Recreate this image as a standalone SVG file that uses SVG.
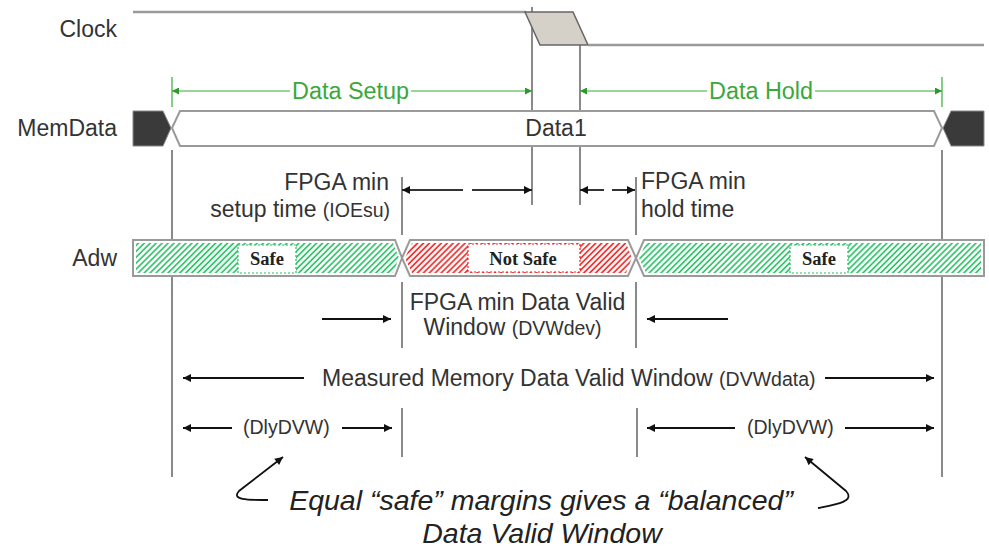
<svg xmlns="http://www.w3.org/2000/svg" width="989" height="548" viewBox="0 0 989 548">
<style>
  .lbl{font-family:"Liberation Sans",Arial,sans-serif;font-size:23px;fill:#333}
  .sm{font-size:19.5px}
  .grn{fill:#3aa83a}
  .it{font-family:"Liberation Sans",Arial,sans-serif;font-size:28.5px;font-style:italic;fill:#222}
  .tag{font-family:"Liberation Serif","Times New Roman",serif;font-weight:bold;font-size:18.5px;fill:#222}
  .vl{stroke:#8a8a8a;stroke-width:2;fill:none}
  .ar{stroke:#111;stroke-width:2;fill:none;marker-end:url(#ah)}
  .ar2{stroke:#333;stroke-width:2;fill:none;marker-end:url(#ah);marker-start:url(#ahs)}
  .gl{stroke:#3aa83a;stroke-width:1.2;fill:none}
  .bus{fill:#fff;stroke:#9a9a9a;stroke-width:2}
  .dark{fill:#3a3a3a;stroke:#888;stroke-width:1}
</style>
<defs>
  <marker id="ah" viewBox="0 0 10 10" refX="10" refY="5" markerUnits="userSpaceOnUse" markerWidth="10" markerHeight="8" orient="auto"><path d="M0,0 L10,5 L0,10 z" fill="#111"/></marker>
  <marker id="ahs" viewBox="0 0 10 10" refX="10" refY="5" markerUnits="userSpaceOnUse" markerWidth="10" markerHeight="8" orient="auto-start-reverse"><path d="M0,0 L10,5 L0,10 z" fill="#111"/></marker>
  <marker id="gh" viewBox="0 0 10 10" refX="10" refY="5" markerUnits="userSpaceOnUse" markerWidth="8" markerHeight="7" orient="auto-start-reverse"><path d="M0,0 L10,5 L0,10 z" fill="#2a9a2a"/></marker>
  <pattern id="hg" patternUnits="userSpaceOnUse" width="4.2" height="10" patternTransform="rotate(45)"><rect width="4.2" height="10" fill="#fff"/><line x1="1" y1="0" x2="1" y2="10" stroke="#22c060" stroke-width="1.6"/></pattern>
  <pattern id="hr" patternUnits="userSpaceOnUse" width="4.2" height="10" patternTransform="rotate(45)"><rect width="4.2" height="10" fill="#fff"/><line x1="1" y1="0" x2="1" y2="10" stroke="#f02222" stroke-width="1.6"/></pattern>
</defs>
<rect width="989" height="548" fill="#fff"/>

<g id="connectors">
  <!-- vertical reference lines -->
  <line class="vl" x1="532" y1="7" x2="532" y2="205"/>
  <line class="vl" x1="580" y1="45" x2="580" y2="205"/>
  <line class="vl" x1="172" y1="150" x2="172" y2="477"/>
  <line class="vl" x1="942" y1="150" x2="942" y2="477"/>
  <line class="vl" x1="402" y1="177" x2="402" y2="235"/>
  <line class="vl" x1="402" y1="282" x2="402" y2="348"/>
  <line class="vl" x1="402" y1="408" x2="402" y2="457"/>
  <line class="vl" x1="636" y1="177" x2="636" y2="235"/>
  <line class="vl" x1="636" y1="282" x2="636" y2="348"/>
  <line class="vl" x1="637" y1="408" x2="637" y2="457"/>
  <!-- green setup/hold dimensions -->
  <line class="gl" x1="172" y1="77" x2="172" y2="107"/>
  <line class="gl" x1="942" y1="77" x2="942" y2="107"/>
  <line class="gl" x1="290" y1="91" x2="172" y2="91" marker-end="url(#gh)"/>
  <line class="gl" x1="411" y1="91" x2="532" y2="91" marker-end="url(#gh)"/>
  <line class="gl" x1="707" y1="91" x2="580" y2="91" marker-end="url(#gh)"/>
  <line class="gl" x1="815" y1="91" x2="942" y2="91" marker-end="url(#gh)"/>
  <!-- FPGA setup / hold -->
  <line class="ar2" x1="402" y1="190" x2="532" y2="190" stroke-dasharray="61 9"/>
  <line class="ar2" x1="580" y1="190" x2="635" y2="190" stroke-dasharray="24 8"/>
  <!-- DVWdev -->
  <line class="ar" x1="322" y1="319" x2="391" y2="319"/>
  <line class="ar" x1="728" y1="319" x2="647" y2="319"/>
  <!-- DVWdata -->
  <line class="ar" x1="304" y1="378" x2="183" y2="378"/>
  <line class="ar" x1="825" y1="378" x2="934" y2="378"/>
  <!-- DlyDVW -->
  <line class="ar" x1="232" y1="428" x2="183" y2="428"/>
  <line class="ar" x1="342" y1="428" x2="392" y2="428"/>
  <line class="ar" x1="735" y1="428" x2="647" y2="428"/>
  <line class="ar" x1="845" y1="428" x2="934" y2="428"/>
  <!-- curved pointers -->
  <path class="ar" d="M268,500 C252,500 230,501 239,491 L283,457" style="stroke-width:1.8"/>
  <path class="ar" d="M818,508 C834,505 856,502 846,491 L805,457" style="stroke-width:1.8"/>
</g>

<g id="signal-labels">
  <text class="lbl" x="117" y="37" text-anchor="end">Clock</text>
  <text class="lbl" x="117" y="136" text-anchor="end">MemData</text>
  <text class="lbl" x="117" y="266" text-anchor="end">Adw</text>
</g>

<g id="clock">
  <line x1="133" y1="12" x2="526" y2="12" stroke="#9a9a9a" stroke-width="2.5"/>
  <polygon points="525,12 573,12 588,45 540,45" fill="#d5d0c8" stroke="#666" stroke-width="1.5"/>
  <line x1="588" y1="45" x2="984" y2="45" stroke="#9a9a9a" stroke-width="2.5"/>
</g>

<g id="memdata">
  <polygon class="dark" points="133,111 163,111 171,128 163,146 133,146"/>
  <polygon class="bus" points="172,128 180,111 934,111 942,128 934,146 180,146"/>
  <polygon class="dark" points="943,128 951,111 984,111 984,146 951,146"/>
  <text class="lbl" x="556" y="136" text-anchor="middle">Data1</text>
</g>

<g id="adw">
  <polygon class="bus" points="133,240 395,240 402,258 395,276 133,276"/>
  <polygon points="136,243 393,243 399,258 393,273 136,273" fill="url(#hg)"/>
  <polygon class="bus" points="402,258 410,240 628,240 636,258 628,276 410,276"/>
  <polygon points="405,258 412,243 626,243 632,258 626,273 412,273" fill="url(#hr)"/>
  <polygon class="bus" points="636,258 644,240 984,240 984,276 644,276"/>
  <polygon points="639,258 646,243 981,243 981,273 646,273" fill="url(#hg)"/>
  <rect x="238" y="245" width="58" height="28" fill="#fff" stroke="#22c060" stroke-width="1.2" stroke-dasharray="2 2"/>
  <text class="tag" x="267" y="265" text-anchor="middle">Safe</text>
  <rect x="468" y="244" width="112" height="28" fill="#fff" stroke="#f02222" stroke-width="1.2" stroke-dasharray="2 2"/>
  <text class="tag" x="523" y="265" text-anchor="middle">Not Safe</text>
  <rect x="790" y="245" width="58" height="28" fill="#fff" stroke="#22c060" stroke-width="1.2" stroke-dasharray="2 2"/>
  <text class="tag" x="819" y="265" text-anchor="middle">Safe</text>
</g>

<g id="annotations">
  <text class="lbl grn" x="292" y="99" textLength="117" lengthAdjust="spacingAndGlyphs">Data Setup</text>
  <text class="lbl grn" x="709" y="99" textLength="104" lengthAdjust="spacingAndGlyphs">Data Hold</text>
  <text class="lbl" x="389" y="190" text-anchor="end">FPGA min</text>
  <text class="lbl" x="390" y="217" text-anchor="end">setup time <tspan class="sm">(IOEsu)</tspan></text>
  <text class="lbl" x="641" y="189">FPGA min</text>
  <text class="lbl" x="641" y="217">hold time</text>
  <text class="lbl" x="517.5" y="310" text-anchor="middle">FPGA min Data Valid</text>
  <text class="lbl" x="512.5" y="335" text-anchor="middle">Window <tspan class="sm">(DVWdev)</tspan></text>
  <text class="lbl" x="322" y="386">Measured Memory Data Valid Window <tspan class="sm">(DVWdata)</tspan></text>
  <text class="lbl sm" x="243" y="434">(DlyDVW)</text>
  <text class="lbl sm" x="747" y="434">(DlyDVW)</text>
  <text class="it" x="541" y="510" text-anchor="middle">Equal “safe” margins gives a “balanced”</text>
  <text class="it" x="542" y="543" text-anchor="middle">Data Valid Window</text>
</g>
</svg>
